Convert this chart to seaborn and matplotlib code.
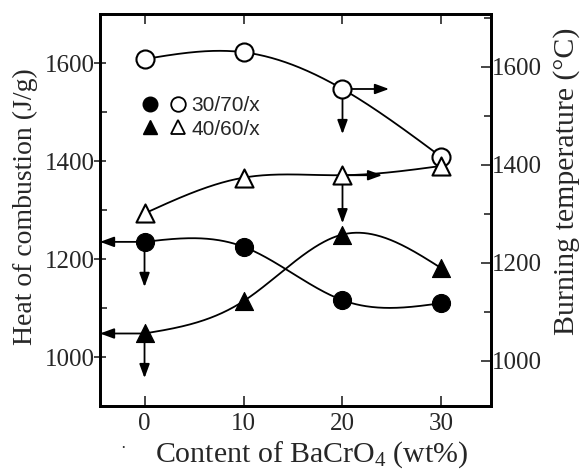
import numpy as np
import pandas as pd
import matplotlib
matplotlib.use("Agg")
import matplotlib.pyplot as plt
from matplotlib.lines import Line2D
from matplotlib.legend_handler import HandlerTuple
from matplotlib.ticker import MultipleLocator
import seaborn as sns

# BaCrO4 content (wt%)
content = [0, 10, 20, 30]
# Heat of combustion (J/g), left axis
heat_3070 = [1235, 1225, 1116, 1110]
heat_4060 = [1048, 1114, 1250, 1181]
# Burning temperature (deg C), right axis
temp_3070 = [1616, 1630, 1555, 1416]
temp_4060 = [1301, 1374, 1379, 1398]

series_labels = ["30/70/x", "40/60/x"]
left_ticks = [1000, 1200, 1400, 1600]
right_ticks = [1000, 1200, 1400, 1600]
x_ticks = [0, 10, 20, 30]

sns.set_style("ticks")
plt.rcParams["font.family"] = ["Liberation Serif", "DejaVu Serif"]
plt.rcParams["mathtext.fontset"] = "custom"
plt.rcParams["mathtext.rm"] = "Liberation Serif"
plt.rcParams["mathtext.it"] = "Liberation Serif:italic"


def natural_spline(x, y, xs):
    """Smooth curve through the measured points (natural cubic spline)."""
    x = np.asarray(x, float)
    y = np.asarray(y, float)
    n = len(x)
    h = np.diff(x)
    A = np.zeros((n, n))
    r = np.zeros(n)
    A[0, 0] = A[-1, -1] = 1.0
    for i in range(1, n - 1):
        A[i, i - 1] = h[i - 1]
        A[i, i] = 2 * (h[i - 1] + h[i])
        A[i, i + 1] = h[i]
        r[i] = 3 * ((y[i + 1] - y[i]) / h[i] - (y[i] - y[i - 1]) / h[i - 1])
    c = np.linalg.solve(A, r)
    b = (y[1:] - y[:-1]) / h - h * (2 * c[:-1] + c[1:]) / 3
    d = (c[1:] - c[:-1]) / (3 * h)
    idx = np.clip(np.searchsorted(x, xs) - 1, 0, n - 2)
    dx = xs - x[idx]
    return y[idx] + b[idx] * dx + c[idx] * dx ** 2 + d[idx] * dx ** 3


fig = plt.figure(figsize=(5.84, 4.69), dpi=100)
ax = fig.add_axes([0.1712, 0.1343, 0.6695, 0.8358])
ax2 = ax.twinx()

xs = np.linspace(content[0], content[-1], 300)
LW = 1.3
MS = 13

# heat of combustion: filled symbols on the left axis
for vals, mk in [(heat_3070, "o"), (heat_4060, "^")]:
    sns.lineplot(x=xs, y=natural_spline(content, vals, xs), ax=ax,
                 color="black", lw=LW, zorder=2)
    sns.scatterplot(x=content, y=vals, ax=ax, marker=mk, s=MS ** 2,
                    color="black", edgecolor="black", linewidth=0.8, zorder=5)

# burning temperature: open symbols on the right axis
for vals, mk in [(temp_3070, "o"), (temp_4060, "^")]:
    sns.lineplot(x=xs, y=natural_spline(content, vals, xs), ax=ax2,
                 color="black", lw=LW, zorder=2)
    sns.scatterplot(x=content, y=vals, ax=ax2, marker=mk, s=MS ** 2,
                    color="white", edgecolor="black", linewidth=1.5, zorder=5)

# arrows pointing each series to its axis
arrow = dict(arrowstyle="-|>,head_length=0.6,head_width=0.22", color="black",
             lw=1.3, mutation_scale=14, shrinkA=0, shrinkB=0)
ax.annotate("", xy=(-4.5, heat_3070[0]), xytext=(0, heat_3070[0]),
            arrowprops=arrow, zorder=4)
ax.annotate("", xy=(0, 1143), xytext=(0, heat_3070[0]),
            arrowprops=arrow, zorder=4)
ax.annotate("", xy=(-4.5, heat_4060[0]), xytext=(0, heat_4060[0]),
            arrowprops=arrow, zorder=4)
ax.annotate("", xy=(0, 957), xytext=(0, heat_4060[0]),
            arrowprops=arrow, zorder=4)
ax2.annotate("", xy=(24.7, temp_3070[2]), xytext=(20, temp_3070[2]),
             arrowprops=arrow, zorder=4)
ax2.annotate("", xy=(20, 1463), xytext=(20, temp_3070[2]),
             arrowprops=arrow, zorder=4)
ax2.annotate("", xy=(24.0, temp_4060[2]), xytext=(20, temp_4060[2]),
             arrowprops=arrow, zorder=4)
ax2.annotate("", xy=(20, 1281), xytext=(20, temp_4060[2]),
             arrowprops=arrow, zorder=4)

# axes limits and ticks
ax.set_xlim(-4.5, 35)
ax.set_ylim(900, 1700)
ax2.set_ylim(908, 1708)
ax.set_xticks(x_ticks)
ax.set_yticks(left_ticks)
ax.yaxis.set_minor_locator(MultipleLocator(100))
ax2.set_yticks(right_ticks)
ax2.yaxis.set_minor_locator(MultipleLocator(100))

TICK_FS = 18
ax.tick_params(axis="x", direction="in", length=7, width=1.2, top=True,
               bottom=True, labelsize=TICK_FS, pad=5)
ax.tick_params(axis="y", which="major", direction="inout", length=8,
               width=1.2, labelsize=TICK_FS, pad=0, right=False)
ax.tick_params(axis="y", which="minor", direction="in", length=5, width=1.2,
               right=False)
ax2.tick_params(axis="y", which="major", direction="in", length=7, width=1.2,
                labelsize=TICK_FS, pad=1)
ax2.tick_params(axis="y", which="minor", direction="in", length=5, width=1.2)

for a in (ax, ax2):
    for sp in a.spines.values():
        sp.set_linewidth(2.0)
        sp.set_color("black")

ax.set_xlabel(r"Content of BaCrO$_4$ (wt%)", fontsize=21.5)
ax.xaxis.set_label_coords(0.542, -0.085)
ax.set_ylabel("Heat of combustion (J/g)", fontsize=20)
ax.yaxis.set_label_coords(-0.159, 0.508)
ax2.set_ylabel("Burning temperature (°C)", fontsize=21.5, rotation=90)
ax2.yaxis.set_label_coords(1.159, 0.574)

# legend: filled + open symbol pairs
handles = [
    (Line2D([], [], ls="", marker="o", ms=10.5, mfc="black", mec="black"),
     Line2D([], [], ls="", marker="o", ms=10.5, mfc="white", mec="black", mew=1.3)),
    (Line2D([], [], ls="", marker="^", ms=10.5, mfc="black", mec="black"),
     Line2D([], [], ls="", marker="^", ms=10.5, mfc="white", mec="black", mew=1.3)),
]
ax2.legend(handles, series_labels, handler_map={tuple: HandlerTuple(ndivide=None, pad=0)},
           loc="upper left", bbox_to_anchor=(126.5 / 584, 1 - 86 / 469),
           bbox_transform=fig.transFigure, frameon=False, borderpad=0,
           handlelength=2.6, handletextpad=0.0, labelspacing=0.2,
           prop={"family": ["Liberation Sans", "DejaVu Sans"], "size": 15})

fig.text(123 / 584, 1 - 449 / 469, "·", fontsize=12, ha="center", va="center")

fig.savefig("out.png", dpi=100)
